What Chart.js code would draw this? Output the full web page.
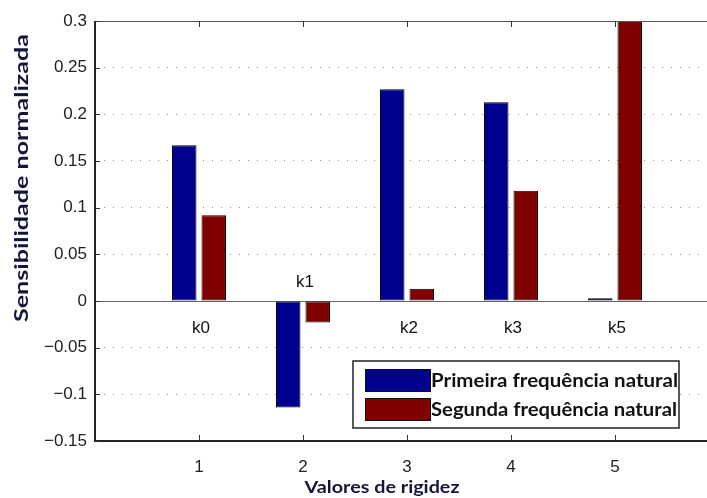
<!DOCTYPE html>
<html>
<head>
<meta charset="utf-8">
<title>Sensibilidade normalizada</title>
<script src="https://cdn.jsdelivr.net/npm/chart.js@4.4.1/dist/chart.umd.min.js"></script>
<style>
  html, body { margin: 0; padding: 0; background: #fff; overflow: hidden; }
  #wrap { width: 707px; height: 498px; overflow: hidden; }
</style>
</head>
<body>
<div id="wrap"><canvas id="myChart" width="740" height="498"></canvas></div>
<script>
// dados
const xValues = [1, 2, 3, 4, 5]
const kLabels = ['k0', 'k1', 'k2', 'k3', 'k5']
const primeiraFreq = [0.167, -0.114, 0.227, 0.213, 0.003]
const segundaFreq = [0.092, -0.023, 0.013, 0.118, 0.3]
const seriesNames = ['Primeira frequência natural', 'Segunda frequência natural']
const seriesColors = ['rgb(0, 0, 143)', 'rgb(128, 0, 0)']
const xTitle = 'Valores de rigidez'
const yTitle = 'Sensibilidade normalizada'

const fmt = (v) => {
    const r = Math.round(v * 100) / 100
    if (r === 0) return '0'
    return String(r).replace('-', '\u2212')
}
const near = (a, b) => Math.abs(a - b) < 1e-9

// texto esticado ate uma largura (a fonte original parece alargada)
function stretchText(ctx, text, cx, cy, width, rot, align) {
    const w = ctx.measureText(text).width
    ctx.save()
    ctx.translate(cx, cy)
    if (rot) ctx.rotate(rot)
    ctx.scale(width / w, 1)
    ctx.textAlign = align || 'center'
    ctx.textBaseline = 'middle'
    ctx.fillText(text, 0, 0)
    ctx.restore()
}

// eixos estilo matlab, textos k0..k5, legenda
const matlabBox = {
    id: 'matlabBox',
    beforeDatasetsDraw(chart) {
        const {ctx, chartArea: a, scales: {y}} = chart
        const y0 = Math.round(y.getPixelForValue(0)) + 0.5
        ctx.save()
        ctx.strokeStyle = '#666'
        ctx.lineWidth = 1
        ctx.beginPath()
        ctx.moveTo(a.left, y0)
        ctx.lineTo(a.right, y0)
        ctx.stroke()
        ctx.restore()
    },
    afterDraw(chart) {
        const {ctx, chartArea: a, scales: {x, y}} = chart
        ctx.save()

        // caixa
        ctx.strokeStyle = '#555'
        ctx.lineWidth = 1
        ctx.beginPath()
        ctx.moveTo(a.left, a.top + 0.5)
        ctx.lineTo(a.right, a.top + 0.5)
        ctx.stroke()
        ctx.strokeStyle = '#222'
        ctx.lineWidth = 2
        ctx.beginPath()
        ctx.moveTo(a.left, a.top)
        ctx.lineTo(a.left, a.bottom)
        ctx.lineTo(a.right, a.bottom)
        ctx.stroke()

        // ticks para dentro
        ctx.lineWidth = 1
        ctx.strokeStyle = '#333'
        y.ticks.forEach(t => {
            const py = Math.round(y.getPixelForValue(t.value)) + 0.5
            ctx.beginPath()
            ctx.moveTo(a.left, py)
            ctx.lineTo(a.left + 5, py)
            ctx.stroke()
        })
        xValues.forEach(v => {
            const px = Math.round(x.getPixelForValue(v)) + 0.5
            ctx.beginPath()
            ctx.moveTo(px, a.bottom)
            ctx.lineTo(px, a.bottom - 6)
            ctx.moveTo(px, a.top)
            ctx.lineTo(px, a.top + 6)
            ctx.stroke()
        })

        // textos k
        const y0 = y.getPixelForValue(0)
        ctx.fillStyle = '#111'
        ctx.font = '17px "Liberation Sans", Arial, sans-serif'
        ctx.textAlign = 'center'
        ctx.textBaseline = 'middle'
        kLabels.forEach((lab, i) => {
            const neg = primeiraFreq[i] < 0 && segundaFreq[i] < 0
            ctx.fillText(lab, x.getPixelForValue(xValues[i]) + 2, y0 + (neg ? -19 : 27))
        })

        // titulos dos eixos
        ctx.fillStyle = '#15153a'
        ctx.font = 'bold 17px Lato, sans-serif'
        stretchText(ctx, xTitle, a.left + 287, chart.height - 10, 155, 0)
        ctx.font = 'bold 18px Lato, sans-serif'
        stretchText(ctx, yTitle, 22, 178, 288, -Math.PI / 2)

        // legenda
        const lx = a.left + 258, ly = a.bottom - 80, lw = 326, lh = 67
        ctx.fillStyle = '#fff'
        ctx.fillRect(lx, ly, lw, lh)
        ctx.strokeStyle = '#222'
        ctx.lineWidth = 1.5
        ctx.strokeRect(lx, ly, lw, lh)
        ctx.font = 'bold 19px Lato, sans-serif'
        chart.data.datasets.forEach((ds, i) => {
            const sy = ly + 8 + i * 29
            ctx.fillStyle = ds.backgroundColor
            ctx.fillRect(lx + 12, sy, 65, 22)
            ctx.strokeStyle = '#111'
            ctx.lineWidth = 1
            ctx.strokeRect(lx + 12.5, sy + 0.5, 65, 22)
            ctx.fillStyle = '#111'
            const tw = i === 0 ? 247 : 246
            stretchText(ctx, ds.label, lx + 78, sy + 12, tw, 0, 'left')
        })
        ctx.restore()
    }
}

const ctx = document.getElementById('myChart').getContext('2d')
const datasets = [primeiraFreq, segundaFreq].map((vals, i) => ({
    label: seriesNames[i],
    data: xValues.map((xv, j) => ({x: xv, y: vals[j]})),
    backgroundColor: seriesColors[i],
    borderColor: '#000',
    borderWidth: 1,
    borderSkipped: false,
    categoryPercentage: 0.567,
    barPercentage: 0.83
}))

new Chart(ctx, {
    type: 'bar',
    data: {datasets: datasets},
    options: {
        responsive: false,
        animation: false,
        devicePixelRatio: 1,
        layout: {padding: {top: 21, right: 21, left: 0, bottom: 0}},
        plugins: {
            legend: {display: false},
            tooltip: {enabled: false}
        },
        scales: {
            x: {
                type: 'linear',
                min: 0,
                max: 6,
                offset: false,
                afterFit: (s) => { s.height = 57 },
                grid: {display: false, offset: false},
                border: {display: false},
                ticks: {
                    stepSize: 1,
                    padding: 8,
                    color: '#222',
                    font: {family: '"Liberation Sans", Arial, sans-serif', size: 17},
                    callback: (v) => (v >= 1 && v <= 5 ? String(v) : '')
                }
            },
            y: {
                min: -0.15,
                max: 0.3,
                afterFit: (s) => { s.width = 95 },
                grid: {
                    drawTicks: false,
                    color: (c) => {
                        const v = c.tick ? c.tick.value : 0
                        if (near(v, 0) || near(v, -0.15) || near(v, 0.3)) return 'rgba(0,0,0,0)'
                        return '#8a8a8a'
                    },
                    lineWidth: 1
                },
                border: {display: false, dash: [1, 8]},
                ticks: {
                    stepSize: 0.05,
                    padding: 8,
                    color: '#222',
                    font: {family: '"Liberation Sans", Arial, sans-serif', size: 17},
                    callback: (v) => fmt(v)
                }
            }
        }
    },
    plugins: [matlabBox]
})
</script>
</body>
</html>
